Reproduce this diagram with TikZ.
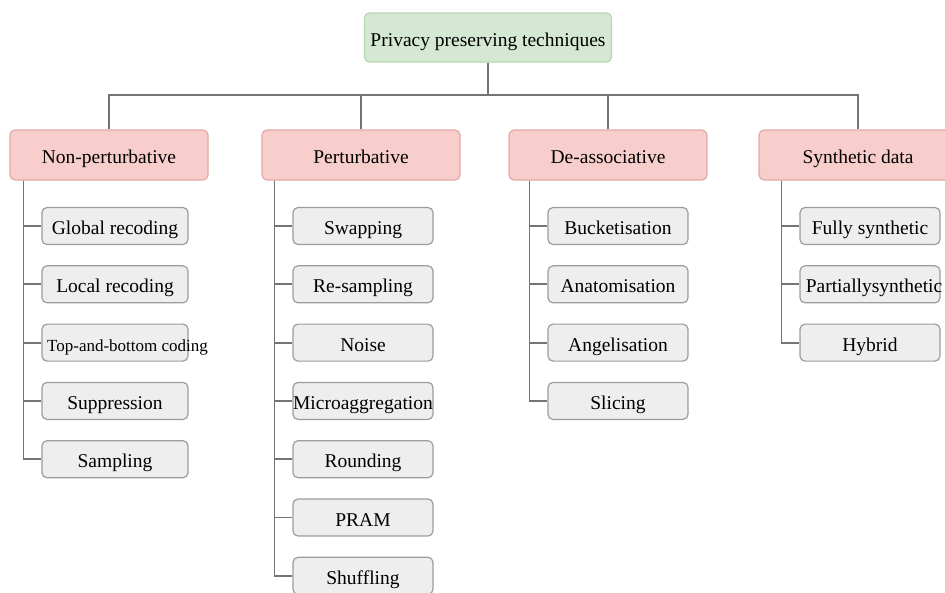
\documentclass[tikz,border=0pt]{standalone}
\usepackage{fontspec}
\setmainfont{Liberation Serif}

\definecolor{rootfill}{HTML}{D5E8D4}
\definecolor{rootline}{HTML}{B7D6B2}
\definecolor{groupfill}{HTML}{F8CECC}
\definecolor{groupline}{HTML}{E2A9A7}
\definecolor{leaffill}{HTML}{EEEEEE}
\definecolor{leafline}{HTML}{9C9C9C}
\definecolor{wirecol}{HTML}{747474}

\tikzset{
  box/.style={rounded corners=5pt, line width=1.2pt, inner sep=0pt, align=center,
    text height=18pt, text depth=1pt},
  rootbox/.style={box, draw=rootline, fill=rootfill, minimum width=247pt, minimum height=49pt},
  groupbox/.style={box, draw=groupline, fill=groupfill, minimum width=198pt, minimum height=50pt},
  leafbox/.style={box, draw=leafline, fill=leaffill, minimum width=140pt, minimum height=37pt},
  wire/.style={draw=wirecol, line width=1.8pt}
}
\newcommand{\spill}[1]{\makebox[0pt]{#1}}

\begin{document}
\begin{tikzpicture}[x=1pt, y=-1pt, font=\fontsize{19.5}{23}\selectfont]
    \useasboundingbox (0,0) rectangle (945,592);

    \node[rootbox] (priv) at (488,37.5) {Privacy preserving techniques};
    \coordinate (bus) at (488,95);

    \node[groupbox] (nonpert) at (109,155) {Non-perturbative};
    \node[groupbox] (pert) at (361,155) {Perturbative};
    \node[groupbox] (deassoc) at (608,155) {De-associative};
    \node[groupbox] (synth) at (858,155) {Synthetic data};

    \draw[wire] (priv.south) -- (bus);
    \draw[wire] (nonpert.north) |- (bus) -| (synth.north);
    \draw[wire] (pert.north) -- (pert.north |- bus);
    \draw[wire] (deassoc.north) -- (deassoc.north |- bus);

    % Non-perturbative
    \foreach \txt [count=\i] in {Global recoding, Local recoding,
        {\spill{\hspace{25pt}\fontsize{17}{20}\selectfont Top-and-bottom coding}},
        Suppression, Sampling}
      \node[leafbox, minimum width=146pt] (np\i) at (115,226+58.3*\i-58.3) {\txt};
    \foreach \i in {1,...,5}
      \draw[wire] ([xshift=-18pt]np1.west |- nonpert.south) |- (np\i.west);

    % Perturbative
    \foreach \txt [count=\i] in {Swapping, Re-sampling, Noise,
        {\spill{Microaggregation}}, Rounding, PRAM, Shuffling}
      \node[leafbox] (pt\i) at (363,226+58.3*\i-58.3) {\txt};
    \foreach \i in {1,...,7}
      \draw[wire] ([xshift=-18pt]pt1.west |- pert.south) |- (pt\i.west);

    % De-associative
    \foreach \txt [count=\i] in {Bucketisation, Anatomisation, Angelisation, Slicing}
      \node[leafbox] (da\i) at (618,226+58.3*\i-58.3) {\txt};
    \foreach \i in {1,...,4}
      \draw[wire] ([xshift=-18pt]da1.west |- deassoc.south) |- (da\i.west);

    % Synthetic data
    \foreach \txt [count=\i] in {Fully synthetic,
        {\spill{\hspace{8pt}Partiallysynthetic}}, Hybrid}
      \node[leafbox] (sy\i) at (870,226+58.3*\i-58.3) {\txt};
    \foreach \i in {1,...,3}
      \draw[wire] ([xshift=-18pt]sy1.west |- synth.south) |- (sy\i.west);
\end{tikzpicture}
\end{document}
